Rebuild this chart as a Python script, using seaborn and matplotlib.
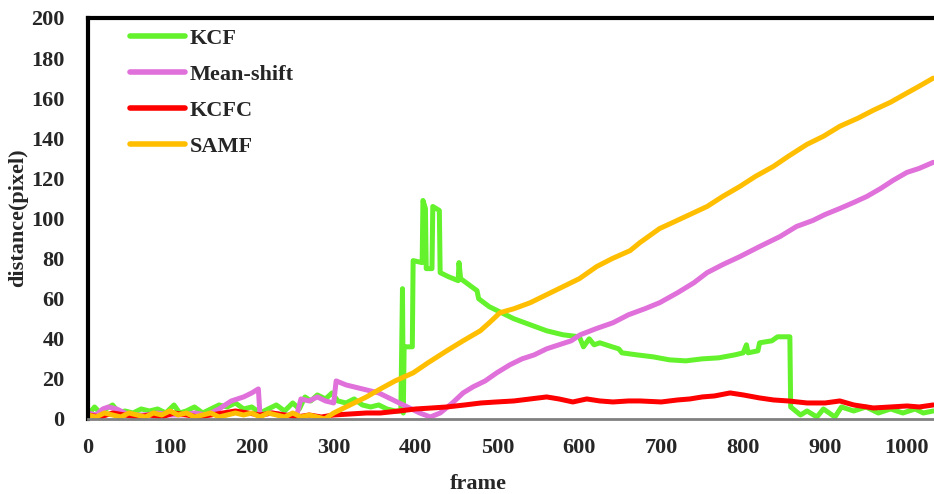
import numpy as np
import pandas as pd
import matplotlib
matplotlib.use("Agg")
import matplotlib.pyplot as plt
import seaborn as sns

# Tracking error per frame for each tracker
kcf_frame = [0, 8, 15, 22, 30, 38, 45, 55, 65, 75, 85, 95, 105, 112, 120, 130, 140, 150,
             160, 170, 180, 190, 200, 210, 220, 230, 240, 250, 258, 265, 272, 280, 290,
             298, 305, 315, 325, 335, 345, 355, 365, 375, 382, 384, 385, 386, 396, 397,
             408, 409, 412, 413, 420, 421, 429, 430, 440, 452, 453, 455, 465, 475, 477,
             490, 505, 520, 540, 560, 580, 600, 605, 612, 618, 625, 640, 648, 652, 670,
             690, 710, 730, 750, 770, 790, 800, 804, 806, 818, 820, 835, 842, 857, 858,
             870, 878, 890, 898, 905, 912, 920, 935, 950, 965, 980, 995, 1010, 1020, 1032]
kcf_dist = [2, 6, 3, 5, 7, 3, 4, 3, 5, 4, 5, 3, 7, 3, 4, 6, 3, 5,
            7, 6, 8, 5, 6, 3, 5, 7, 4, 8, 5, 11, 9, 12, 10,
            13, 9, 8, 10, 7, 6, 7, 5, 4, 4, 65, 3, 36, 36, 79,
            78, 109, 105, 75, 75, 106, 104, 73, 71, 69, 78, 70, 67, 64, 60,
            56, 53, 50, 47, 44, 42, 41, 36, 40, 37, 38, 36, 35, 33, 32,
            31, 29.5, 29, 30, 30.5, 32, 33, 37, 33, 34, 38, 39, 41, 41, 6,
            2, 4, 1, 5, 3, 1, 6, 4, 6, 3, 5, 3, 5, 3, 4]

ms_frame = [0, 10, 18, 25, 35, 45, 55, 70, 85, 100, 115, 130, 145, 160, 175, 190, 200,
            208, 210, 225, 240, 255, 260, 270, 280, 290, 300, 303, 315, 325, 335, 345,
            355, 365, 375, 390, 405, 418, 430, 445, 458, 470, 485, 499, 515, 530, 545,
            560, 575, 590, 601, 620, 641, 660, 680, 698, 720, 740, 756, 775, 796, 820,
            845, 865, 885, 900, 918, 935, 951, 968, 983, 1000, 1015, 1032]
ms_dist = [3, 2, 5, 6, 5, 3, 2, 2, 3, 2, 2, 3, 2, 5, 9, 11, 13,
           15, 2, 3, 2, 2, 10, 9, 11, 9, 8, 19, 17, 16, 15, 14,
           13, 11, 9, 6, 3, 1, 3, 8, 13, 16, 19, 23, 27, 30, 32,
           35, 37, 39, 42, 45, 48, 52, 55, 58, 63, 68, 73, 77, 81, 86,
           91, 96, 99, 102, 105, 108, 111, 115, 119, 123, 125, 128]

kcfc_frame = [0, 15, 30, 45, 60, 75, 90, 105, 120, 135, 150, 165, 180, 195, 210, 225,
              240, 255, 270, 285, 300, 320, 340, 357, 380, 400, 420, 438, 460, 480, 499,
              520, 540, 560, 575, 592, 609, 625, 641, 660, 674, 700, 720, 735, 750, 765,
              784, 800, 820, 837, 855, 878, 900, 918, 935, 959, 980, 1000, 1015, 1032]
kcfc_dist = [2, 1, 3, 2, 1, 2, 1, 3, 2, 1, 2, 3, 4, 3, 2, 3,
             2, 1, 2, 1, 2, 2.5, 3, 3, 4, 5, 5.5, 6, 7, 8, 8.5,
             9, 10, 11, 10, 8.5, 10, 9, 8.5, 9, 9, 8.5, 9.5, 10, 11, 11.5,
             13, 12, 10.5, 9.5, 9, 8, 8, 9, 7, 5.5, 6, 6.5, 6, 7]

samf_frame = [0, 10, 20, 30, 40, 50, 60, 70, 80, 90, 100, 110, 120, 130, 140, 150, 160,
              170, 180, 190, 200, 210, 220, 230, 240, 250, 260, 270, 280, 289, 300, 320,
              340, 357, 375, 397, 415, 438, 458, 479, 490, 503, 520, 540, 560, 580, 600,
              621, 640, 662, 674, 698, 714, 735, 756, 775, 796, 815, 837, 855, 878, 898,
              918, 940, 959, 980, 1000, 1015, 1032]
samf_dist = [2, 1, 3, 2, 1, 3, 2, 1, 3, 2, 4, 2, 3, 1, 2, 3, 1,
             2, 3, 2, 3, 1, 3, 2, 1, 3, 1, 2, 1, 0, 3, 7,
             11, 15, 19, 23, 28, 34, 39, 44, 48, 53, 55, 58, 62, 66, 70,
             76, 80, 84, 88, 95, 98, 102, 106, 111, 116, 121, 126, 131, 137, 141,
             146, 150, 154, 158, 162.6, 166, 170]

trackers = ["KCF", "Mean-shift", "KCFC", "SAMF"]
colors = ["#63F22C", "#E070DA", "#FF0000", "#FFBF00"]
x_ticks = list(range(0, 1001, 100))
y_ticks = list(range(0, 201, 20))

frames = [kcf_frame, ms_frame, kcfc_frame, samf_frame]
dists = [kcf_dist, ms_dist, kcfc_dist, samf_dist]
df = pd.concat(
    [pd.DataFrame({"frame": f, "distance": d, "tracker": t})
     for f, d, t in zip(frames, dists, trackers)],
    ignore_index=True,
)

sns.set_style("white")
plt.rcParams["font.family"] = ["Liberation Serif", "DejaVu Serif"]
plt.rcParams["font.weight"] = "bold"

FS = 16

fig = plt.figure(figsize=(9.34, 4.94), dpi=100)
ax = fig.add_axes([88 / 934, 1 - 419 / 494, 846 / 934, 401 / 494])

sns.lineplot(data=df, x="frame", y="distance", hue="tracker", hue_order=trackers,
             palette=colors, estimator=None, linewidth=3.6, ax=ax)

ax.set_xlim(0, 1033)
ax.set_ylim(0, 200)
ax.set_xticks(x_ticks)
ax.set_yticks(y_ticks)
ax.tick_params(axis="both", length=0, labelsize=FS)
ax.tick_params(axis="x", pad=14)
ax.tick_params(axis="y", pad=17)
for lab in ax.get_xticklabels() + ax.get_yticklabels():
    lab.set_fontweight("bold")

ax.set_xlabel("frame", fontsize=FS, fontweight="bold")
ax.set_ylabel("distance(pixel)", fontsize=FS, fontweight="bold")
ax.xaxis.set_label_coords((478 - 88) / 846, (419 - 484) / 401)
ax.yaxis.set_label_coords((18 - 88) / 846, (419 - 218) / 401)
ax.xaxis.label.set_va("center")
ax.yaxis.label.set_va("center")

for side in ("left", "top"):
    ax.spines[side].set_color("black")
    ax.spines[side].set_linewidth(3)
ax.spines["right"].set_visible(False)
ax.spines["bottom"].set_color("#808080")
ax.spines["bottom"].set_linewidth(2)

leg = ax.legend(loc="upper left", bbox_to_anchor=(0.05, 0.975), frameon=False,
                handlelength=2.45, handletextpad=0.22, labelspacing=0.7,
                borderpad=0, borderaxespad=0,
                prop={"family": "Liberation Serif", "weight": "bold", "size": FS})
for line in leg.get_lines():
    line.set_linewidth(4)
    line.set_solid_capstyle("round")

fig.savefig("out.png", dpi=100)
